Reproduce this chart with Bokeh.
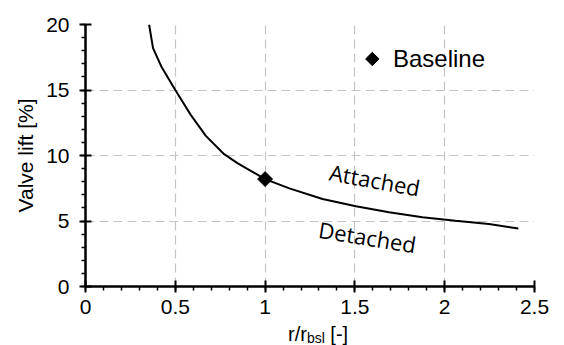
import numpy as np
from bokeh.plotting import figure
from bokeh.models import Range1d, FixedTicker, Label, Div
from bokeh.layouts import column
from bokeh.embed import file_html
from bokeh.resources import INLINE

# ---- data ----
ratio_r = [0.354, 0.376, 0.422, 0.500, 0.586, 0.670, 0.772, 0.848, 1.000,
           1.135, 1.320, 1.506, 1.690, 1.876, 2.060, 2.246, 2.410]
valve_lift = [20.0, 18.2, 16.8, 15.0, 13.1, 11.5, 10.1, 9.4, 8.2,
              7.49, 6.68, 6.12, 5.66, 5.28, 5.02, 4.77, 4.43]
baseline_x = [1.0]
baseline_y = [8.2]

x_ticks = [0, 0.5, 1, 1.5, 2, 2.5]
x_tick_labels = ["0", "0.5", "1", "1.5", "2", "2.5"]
y_ticks = [0, 5, 10, 15, 20]
y_tick_labels = ["0", "5", "10", "15", "20"]

legend_text = "Baseline"
region_labels = ["Attached", "Detached"]
y_title = "Valve lift [%]"
x_title_main, x_title_sub, x_title_tail = "r/r", "bsl", "[-]"

# ---- figure ----
FONT = "Liberation Sans"
p = figure(width=564, height=326, output_backend="svg", toolbar_location=None,
           x_range=Range1d(0, 2.5), y_range=Range1d(0, 20),
           min_border_left=85, min_border_right=30, min_border_top=24,
           min_border_bottom=40)
p.outline_line_color = None
p.background_fill_color = "white"
p.border_fill_color = "white"

p.xaxis.ticker = FixedTicker(ticks=x_ticks,
                             minor_ticks=list(np.round(np.arange(0, 2.5001, 0.1), 2)))
p.yaxis.ticker = FixedTicker(ticks=y_ticks, minor_ticks=list(range(0, 21)))
p.xaxis.major_label_overrides = {t: l for t, l in zip(x_ticks, x_tick_labels)}
p.yaxis.major_label_overrides = {t: l for t, l in zip(y_ticks, y_tick_labels)}

for ax in (p.xaxis[0], p.yaxis[0]):
    ax.axis_line_width = 2.5
    ax.axis_line_color = "black"
    ax.major_tick_line_width = 2
    ax.major_tick_line_color = "black"
    ax.minor_tick_line_width = 1.5
    ax.minor_tick_line_color = "black"
    ax.major_tick_in = 6
    ax.major_tick_out = 6
    ax.minor_tick_in = 0
    ax.minor_tick_out = 4
    ax.major_label_text_font = FONT
    ax.major_label_text_font_size = "21px"
    ax.major_label_text_color = "black"
    ax.axis_label_text_font = FONT
    ax.axis_label_text_font_style = "normal"
    ax.axis_label_text_color = "black"

p.xaxis.major_label_standoff = 7
p.yaxis.major_label_standoff = 10
p.yaxis.axis_label = y_title
p.yaxis.axis_label_text_font_size = "21px"
p.yaxis.axis_label_standoff = 6

for g in (p.xgrid[0], p.ygrid[0]):
    g.grid_line_color = "#c4c4c4"
    g.grid_line_width = 1.2
    g.grid_line_dash = "9 5"
p.xgrid.ticker = FixedTicker(ticks=x_ticks)
p.ygrid.ticker = FixedTicker(ticks=y_ticks)

# ---- curve + baseline point ----
p.line(ratio_r, valve_lift, line_color="black", line_width=2)
p.scatter(baseline_x, baseline_y, marker="square", angle=np.pi / 4, size=10.5,
          fill_color="black", line_color="black")

# ---- legend (manual) ----
p.scatter([1.597], [17.37], marker="square", angle=np.pi / 4, size=9.5,
          fill_color="black", line_color="black")
p.add_layout(Label(x=1.712, y=17.37, text=legend_text, text_font=FONT,
                   text_font_size="24px", text_baseline="middle",
                   text_align="left", text_color="black"))

# ---- region labels ----
p.add_layout(Label(x=1.611, y=8.16, text=region_labels[0], text_font="Open Sans",
                   text_font_size="22px", text_baseline="middle", text_align="center",
                   angle=-0.18, text_color="black"))
p.add_layout(Label(x=1.57, y=3.80, text=region_labels[1], text_font="Open Sans",
                   text_font_size="22px", text_baseline="middle", text_align="center",
                   angle=-0.16, text_color="black"))

# ---- x axis title with subscript (HTML below the plot) ----
x_title = Div(
    text=('<div style="position:relative;top:-6px;margin-left:283px;'
          'font-family:\'Liberation Sans\';font-size:20px;line-height:19px;'
          'white-space:nowrap;color:black">'
          f'{x_title_main}<span style="font-size:14px;position:relative;top:2px">'
          f'{x_title_sub}</span> {x_title_tail}</div>'),
    width=564, height=19)

layout = column(p, x_title, spacing=0)
open("out.html", "w").write(file_html(layout, INLINE))
